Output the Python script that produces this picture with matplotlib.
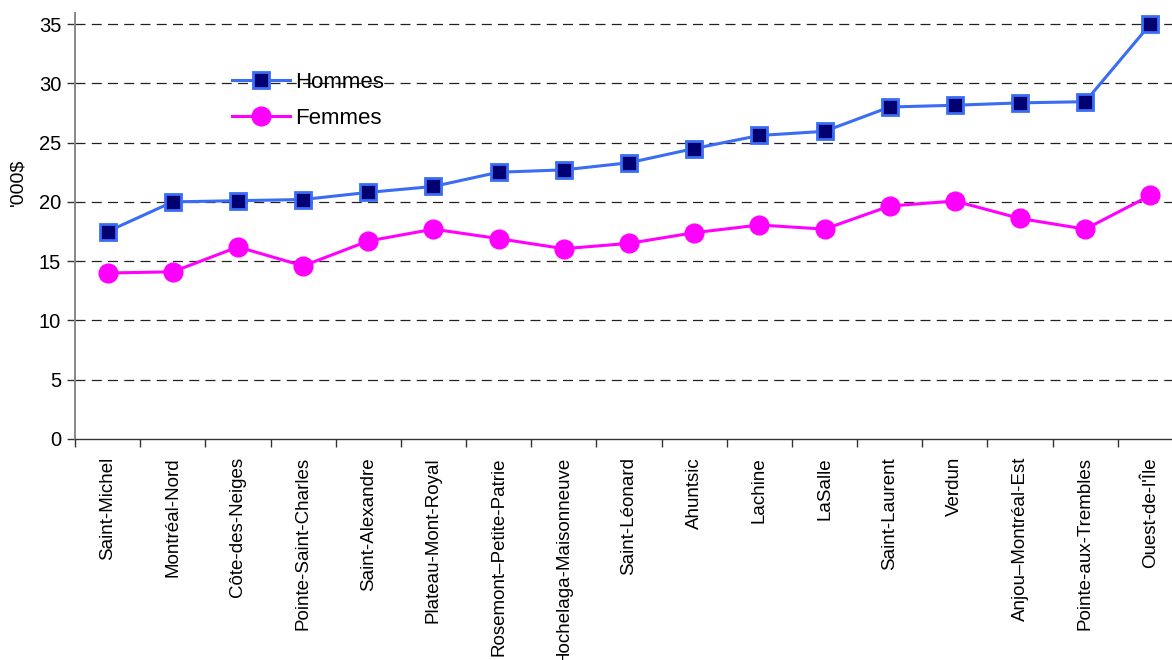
import matplotlib
matplotlib.use('Agg')
import matplotlib.pyplot as plt
import numpy as np

# Revenu moyen par quartier, en milliers de dollars
quartiers = ['Saint-Michel', 'Montréal-Nord', 'Côte-des-Neiges', 'Pointe-Saint-Charles',
             'Saint-Alexandre', 'Plateau-Mont-Royal', 'Rosemont–Petite-Patrie',
             'Hochelaga-Maisonneuve', 'Saint-Léonard', 'Ahuntsic', 'Lachine', 'LaSalle',
             'Saint-Laurent', 'Verdun', 'Anjou–Montréal-Est', 'Pointe-aux-Trembles',
             "Ouest-de-l'Île"]
hommes = [17.5, 20.0, 20.1, 20.2, 20.8, 21.3, 22.5, 22.7, 23.3, 24.5, 25.6, 25.95,
          28.0, 28.15, 28.35, 28.45, 35.0]
femmes = [14.0, 14.1, 16.2, 14.6, 16.7, 17.7, 16.9, 16.05, 16.5, 17.4, 18.05, 17.7,
          19.65, 20.07, 18.6, 17.7, 20.55]
yticks = [0, 5, 10, 15, 20, 25, 30, 35]

plt.rcParams['font.family'] = ['Liberation Sans', 'DejaVu Sans']

fig = plt.figure(figsize=(11.72, 6.6), dpi=100)
# l'axe déborde à droite de la figure
ax = fig.add_axes([75 / 1172, 221 / 660, 1108 / 1172, 426 / 660])

x = np.arange(len(quartiers))
ax.plot(x, hommes, color='#3A6CF4', lw=2.2, marker='s', markersize=11,
        markerfacecolor='#000070', markeredgecolor='#3A6CF4', markeredgewidth=2,
        label='Hommes', zorder=4)
ax.plot(x, femmes, color='#FF00FF', lw=2.2, marker='o', markersize=13.5,
        markerfacecolor='#FF00FF', markeredgecolor='#FF00FF',
        label='Femmes', zorder=3)

ax.set_xlim(-0.5, len(quartiers) - 0.5)
ax.set_ylim(0, 35.93)
ax.set_yticks(yticks)
for t in yticks[1:]:
    ax.axhline(t, color='#222222', lw=0.9, ls=(0, (8, 5)), zorder=1)

ax.set_xticks(x)
ax.set_xticklabels(quartiers, rotation=90, fontsize=13.5, va='top', ha='center')
ax.set_xticks(np.arange(len(quartiers) + 1) - 0.5, minor=True)
ax.tick_params(axis='x', which='major', length=0, pad=13)
ax.tick_params(axis='x', which='minor', length=6, width=1, color='#333333', direction='out')
ax.tick_params(axis='y', length=6, width=1, color='#333333', direction='out', pad=4,
               labelsize=14.5)

for side in ['top', 'right']:
    ax.spines[side].set_visible(False)
ax.spines['left'].set_color('#888888')
ax.spines['left'].set_linewidth(1.4)
ax.spines['bottom'].set_color('#333333')
ax.spines['bottom'].set_linewidth(1)

fig.text(18 / 1172, 1 - 182 / 660, "'000$", rotation=90, ha='center', va='center',
         fontsize=14)

ax.legend(loc='upper left', bbox_to_anchor=(157 / 1108, 1 - 59 / 426), frameon=False,
          fontsize=16, handlelength=2.6, handletextpad=0.25, labelspacing=0.68,
          borderaxespad=0, borderpad=0)

fig.savefig('out.png', dpi=100)
